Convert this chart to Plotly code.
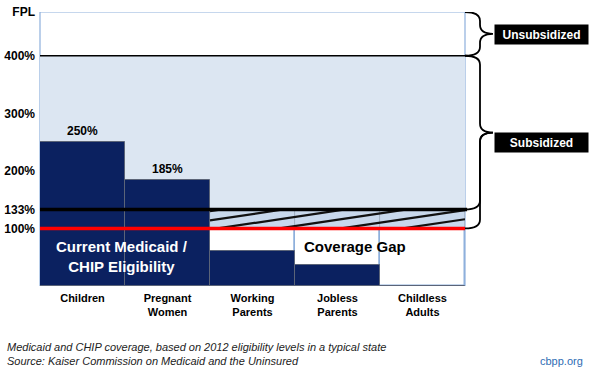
import plotly.graph_objects as go

# ---- data ----
categories = ["Children", "Pregnant<br>Women", "Working<br>Parents", "Jobless<br>Parents", "Childless<br>Adults"]
eligibility = [250, 185, 61, 37, 0]          # % FPL, current Medicaid/CHIP eligibility
gap_groups = ["Working<br>Parents", "Jobless<br>Parents", "Childless<br>Adults"]
gap_top = [100, 100, 100]                     # coverage gap up to 100% FPL
hatch_base = [100, 100, 100]
hatch_height = [33, 33, 33]                   # 100% -> 133% band
ytick_vals = [476, 400, 300, 200, 133, 100]
ytick_text = ["FPL", "400%", "300%", "200%", "133%", "100%"]
bar_labels = ["250%", "185%"]
y_top = 476
subsidy_top = 400
medicaid_line = 133
poverty_line = 100

FONT = "Liberation Sans, Arial, sans-serif"
NAVY = "#0b2160"
LIGHT = "#dce6f2"
BAND = "#c8d8ec"
EDGE = "#8eb0dc"

fig = go.Figure()

# white coverage-gap boxes
fig.add_trace(go.Bar(x=gap_groups, y=gap_top, base=0, width=1,
                     marker=dict(color="white", line=dict(color=EDGE, width=1.5)),
                     hoverinfo="skip", showlegend=False))
# 100-133 band
fig.add_trace(go.Bar(x=gap_groups, y=hatch_height, base=hatch_base, width=1,
                     marker=dict(color=BAND, line=dict(color="#9aa9bd", width=0.8)),
                     hoverinfo="skip", showlegend=False))

# shallow hatch lines across the band, clipped to it
n0 = categories.index(gap_groups[0]) - 0.5
n1 = categories.index(gap_groups[-1]) + 0.5
lo, hi = hatch_base[0], hatch_base[0] + hatch_height[0]
slope = 22.0      # y-units per category unit
step = 16.0       # vertical spacing of hatch lines
hx, hy = [], []
c = lo - slope * (n1 - n0)
while c < hi:
    xa = max(n0, n0 + (lo - c) / slope)
    xb = min(n1, n0 + (hi - c) / slope)
    if xb > xa:
        hx += [xa, xb, None]
        hy += [c + slope * (xa - n0), c + slope * (xb - n0), None]
    c += step
fig.add_trace(go.Scatter(x=hx, y=hy, mode="lines", line=dict(color="#111111", width=2.2),
                         hoverinfo="skip", showlegend=False, xaxis="x2"))

# eligibility bars
fig.add_trace(go.Bar(x=categories, y=eligibility, base=0, width=1,
                     marker=dict(color=NAVY, line=dict(color="#5b6478", width=1)),
                     hoverinfo="skip", showlegend=False))

# background regions
fig.add_shape(type="rect", xref="paper", yref="y", x0=0, x1=1, y0=0, y1=y_top,
              fillcolor="white", line=dict(color=EDGE, width=1.2), layer="below")
fig.add_shape(type="rect", xref="paper", yref="y", x0=0, x1=1, y0=poverty_line, y1=subsidy_top,
              fillcolor=LIGHT, line=dict(width=0), layer="below")

# horizontal threshold lines
fig.add_shape(type="line", xref="paper", yref="y", x0=0, x1=1, y0=subsidy_top, y1=subsidy_top,
              line=dict(color="black", width=1.5))
fig.add_shape(type="line", xref="paper", yref="y", x0=0, x1=1.005, y0=medicaid_line, y1=medicaid_line,
              line=dict(color="black", width=3.5))
fig.add_shape(type="line", xref="paper", yref="y", x0=0, x1=1, y0=poverty_line, y1=poverty_line,
              line=dict(color="#ff0000", width=3.5))

# curly braces on the right
PXX = 1 / 425.0
PXY = 476 / 274.0
x0 = 1.0
xm = 1.0 + 15 * PXX
xt = 1.0 + 28 * PXX
r = 9 * PXY


def brace(ytop, ybot):
    ymid = (ytop + ybot) / 2
    return (f"M {x0},{ytop} Q {xm},{ytop} {xm},{ytop - r} L {xm},{ymid + r} "
            f"Q {xm},{ymid} {xt},{ymid} Q {xm},{ymid} {xm},{ymid - r} "
            f"L {xm},{ybot + r} Q {xm},{ybot} {x0},{ybot}")


BR = dict(color="black", width=1.8)
fig.add_shape(type="path", xref="paper", yref="y", path=brace(y_top, subsidy_top), line=BR)
fig.add_shape(type="path", xref="paper", yref="y", path=brace(subsidy_top, medicaid_line), line=BR)
ym = (subsidy_top + medicaid_line) / 2
fig.add_shape(type="path", xref="paper", yref="y",
              path=(f"M {xt},{ym} Q {xm},{ym} {xm},{ym - r} L {xm},{poverty_line + r} "
                    f"Q {xm},{poverty_line} {x0},{poverty_line}"),
              line=BR)

ann = []
for lab, cat, val in zip(bar_labels, categories[:2], eligibility[:2]):
    ann.append(dict(x=cat, y=val, text=lab, showarrow=False, yanchor="bottom", yshift=2,
                    font=dict(family=FONT, size=12, color="black", weight="bold")))
ann.append(dict(x=0.46, y=52, text="Current Medicaid /<br>CHIP Eligibility", showarrow=False,
                font=dict(family=FONT, size=15, color="white", weight="bold")))
ann.append(dict(x=3.2, y=68, text="Coverage Gap", showarrow=False,
                font=dict(family=FONT, size=15, color="black", weight="bold")))
for txt, ypx in [("Unsubsidized", 34), ("Subsidized", 142)]:
    ann.append(dict(xref="paper", yref="paper", x=(541.5 - 40) * PXX, y=(286 - ypx) / 274.0,
                    xanchor="center", yanchor="middle", text=txt, showarrow=False,
                    bgcolor="black", width=89, height=15, borderpad=2,
                    font=dict(family=FONT, size=12, color="white", weight="bold")))
ann.append(dict(xref="paper", yref="paper", x=(5 - 40) * PXX, y=-53 / 274, xanchor="left", yanchor="top",
                align="left",
                text="<i>Medicaid and CHIP coverage, based on 2012 eligibility levels in a typical state<br>"
                     "Source: Kaiser Commission on Medicaid and the Uninsured</i>",
                showarrow=False, font=dict(family=FONT, size=11, color="#222222")))
ann.append(dict(xref="paper", yref="paper", x=(585 - 40) * PXX, y=-75 / 274, xanchor="right",
                yanchor="middle", text="cbpp.org", showarrow=False,
                font=dict(family=FONT, size=11, color="#2e6db4")))

fig.update_layout(
    width=590, height=374,
    margin=dict(l=40, r=125, t=12, b=88, autoexpand=False),
    paper_bgcolor="white", plot_bgcolor="white",
    barmode="overlay", bargap=0,
    annotations=ann,
    xaxis=dict(categoryorder="array", categoryarray=categories, range=[-0.5, 4.5], automargin=False,
               showgrid=False, zeroline=False, showline=False, ticks="", ticklabelstandoff=4,
               tickfont=dict(family=FONT, size=11, color="black", weight="bold")),
    xaxis2=dict(overlaying="x", range=[-0.5, 4.5], visible=False),
    yaxis=dict(range=[0, y_top], tickvals=ytick_vals, ticktext=ytick_text, automargin=False,
               showgrid=False, zeroline=False, showline=False, ticks="", ticklabelstandoff=4,
               tickfont=dict(family=FONT, size=12, color="black", weight="bold")),
)

fig.write_html("out.html")
